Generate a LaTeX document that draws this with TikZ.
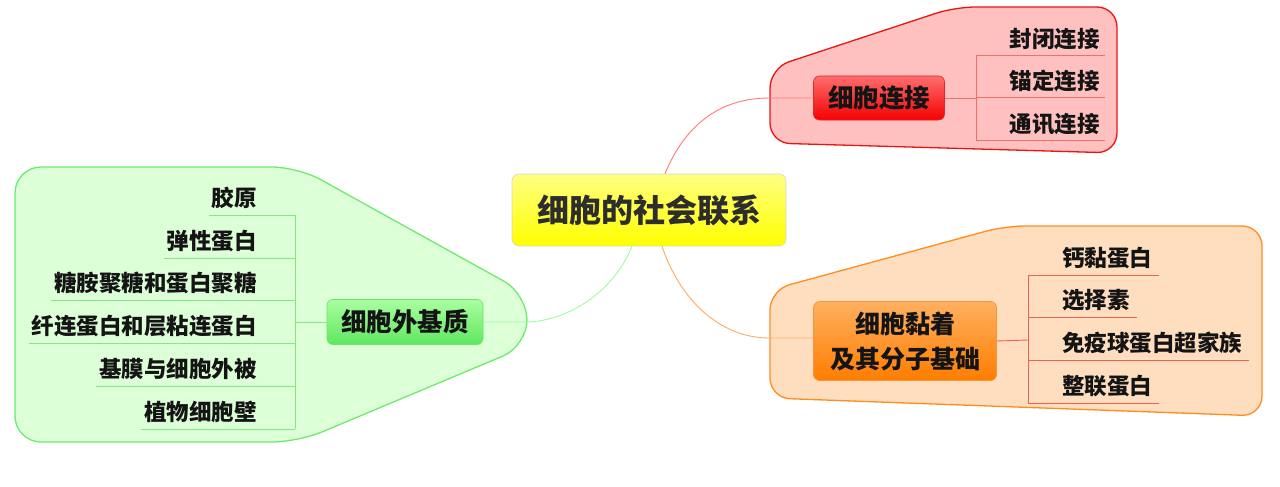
\documentclass[tikz,border=0pt]{standalone}
\usepackage{fontspec}
\setmainfont{Noto Sans CJK SC}
\usetikzlibrary{calc}
\definecolor{redfill}{RGB}{255,192,192}
\definecolor{redline}{RGB}{235,20,20}
\definecolor{orfill}{RGB}{255,222,192}
\definecolor{orline}{RGB}{255,140,30}
\definecolor{grfill}{RGB}{220,255,215}
\definecolor{grline}{RGB}{110,235,110}
\definecolor{txt}{RGB}{20,20,20}
\begin{document}
\begin{tikzpicture}[x=1pt,y=-1pt,
  group/.style={line width=1.3pt, rounded corners=20pt},
  topic/.style={rounded corners=6pt, font=\fontsize{25.5}{30}\selectfont\bfseries, text=txt, align=center, inner sep=0pt},
  sub/.style={font=\fontsize{22.5}{26}\selectfont\bfseries, text=txt, inner sep=0pt},
  rl/.style={draw={rgb,255:red,240;green,110;blue,110}, line width=0.9pt},
  ol/.style={draw={rgb,255:red,242;green,95;blue,85}, line width=0.9pt},
  gl/.style={draw={rgb,255:red,130;green,232;blue,130}, line width=0.9pt},
  rconn/.style={draw={rgb,255:red,255;green,120;blue,120}, line width=0.9pt},
  oconn/.style={draw={rgb,255:red,255;green,170;blue,100}, line width=0.9pt},
  gconn/.style={draw={rgb,255:red,160;green,250;blue,160}, line width=0.9pt}]
\useasboundingbox (0,0) rectangle (1280,487);

% group backgrounds
\draw[group, draw=redline, fill=redfill] (770,68) -- (955,7) -- (1117,7) -- (1117,153) -- (770,143) -- cycle;
\draw[group, draw=orline, fill=orfill] (770,290) -- (1005,226) -- (1262,226) -- (1262,416) -- (770,398) -- cycle;
\draw[group, draw=grline, fill=grfill, rounded corners=26pt] (15,167) -- (298,167) -- (527,294) -- (527,346) -- (298,442) -- (15,442) -- cycle;

% central topic
\node[rounded corners=7pt, draw={rgb,255:red,215;green,215;blue,200}, line width=0.6pt,
  top color={rgb,255:red,255;green,255;blue,130}, bottom color=yellow,
  minimum width=274pt, minimum height=72pt, inner sep=0pt,
  font=\fontsize{32}{38}\selectfont\bfseries, text={rgb,255:red,45;green,45;blue,45}]
  (c) at (649,210) {细胞的社会联系};

% main topics
\node[topic, draw={rgb,255:red,225;green,40;blue,40}, line width=0.6pt,
  top color={rgb,255:red,255;green,110;blue,110}, bottom color={rgb,255:red,245;green,0;blue,0},
  minimum width=131pt, minimum height=44pt] (r) at (879,98) {细胞连接};
\node[topic, draw={rgb,255:red,240;green,150;blue,60}, line width=0.6pt,
  top color={rgb,255:red,255;green,176;blue,96}, bottom color={rgb,255:red,255;green,125;blue,0},
  minimum width=183pt, minimum height=79pt, font=\fontsize{25}{35}\selectfont\bfseries] (o) at (905,341) {细胞黏着\\及其分子基础};
\node[topic, draw={rgb,255:red,110;green,225;blue,110}, line width=0.6pt,
  top color={rgb,255:red,170;green,255;blue,160}, bottom color={rgb,255:red,95;green,230;blue,95},
  minimum width=156pt, minimum height=45pt] (g) at (405,322) {细胞外基质};

% connectors from centre
\draw[rconn] ($(c.north)+(16,0)$) .. controls (685,125) and (720,98) .. ($(r.west)+(-44,0)$) -- (r.west);
\draw[oconn] ($(c.south)+(13,0)$) .. controls (680,300) and (720,338) .. ($(o.west)+(-44,-3)$) -- ($(o.west)+(0,-3)$);
\draw[gconn] ($(c.south)+(-17,0)$) .. controls (612,295) and (565,321) .. ($(g.east)+(44,0)$) -- (g.east);

% red subtopics
\coordinate (rv) at (976,98);
\node[sub, anchor=east] (r1) at (1100,39) {封闭连接};
\node[sub, anchor=east] (r2) at (1100,81) {锚定连接};
\node[sub, anchor=east] (r3) at (1100,124) {通讯连接};
\foreach \n in {r1,r2,r3}{
  \coordinate (\n b) at ($(\n.east)+(5,16)$);
  \draw[rl] (\n b -| rv) -- (\n b);
}
\draw[rl] (r1b -| rv) -- (r3b -| rv);
\draw[rl] (r.east) -- (rv);

% orange subtopics
\coordinate (ov) at (1028,340);
\node[sub, anchor=west] (o1) at (1062,258) {钙黏蛋白};
\node[sub, anchor=west] (o2) at (1062,300) {选择素};
\node[sub, anchor=west] (o3) at (1062,343) {免疫球蛋白超家族};
\node[sub, anchor=west] (o4) at (1062,386) {整联蛋白};
\foreach \n in {o1,o2,o3,o4}{
  \coordinate (\n b) at ($(\n.east)+(7,17)$);
  \draw[ol] (\n b -| ov) -- (\n b);
}
\draw[ol] (o1b -| ov) -- (o4b -| ov);
\draw[ol] (o.east) -- (ov);

% green subtopics
\coordinate (gv) at (295,322);
\node[sub, anchor=east] (g1) at (257,198) {胶原};
\node[sub, anchor=east] (g2) at (257,241) {弹性蛋白};
\node[sub, anchor=east] (g3) at (257,283) {糖胺聚糖和蛋白聚糖};
\node[sub, anchor=east] (g4) at (257,326) {纤连蛋白和层粘连蛋白};
\node[sub, anchor=east] (g5) at (257,369) {基膜与细胞外被};
\node[sub, anchor=east] (g6) at (257,412) {植物细胞壁};
\foreach \n in {g1,g2,g3,g4,g5,g6}{
  \coordinate (\n b) at ($(\n.west)+(-3,17)$);
  \draw[gl] (\n b) -- (\n b -| gv);
}
\draw[gl] (g1b -| gv) -- (g6b -| gv);
\draw[gl] (g.west) -- (gv);
\end{tikzpicture}
\end{document}
